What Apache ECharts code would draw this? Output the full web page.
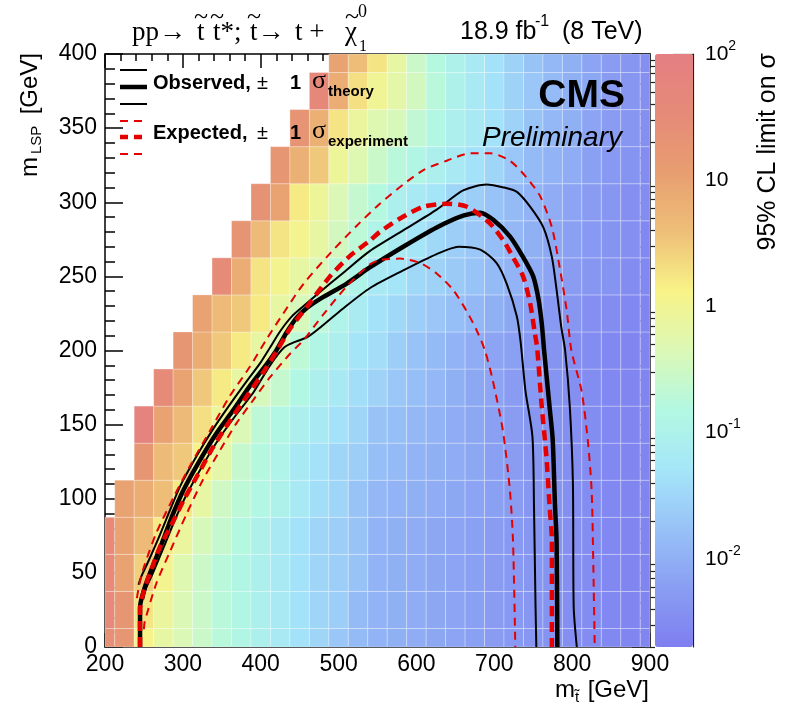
<!DOCTYPE html>
<html>
<head>
<meta charset="utf-8">
<script src="https://cdn.jsdelivr.net/npm/echarts@6/dist/echarts.min.js"></script>
<style>
  html, body { margin: 0; background: #fff; }
  #chart { width: 790px; height: 706px; }
</style>
</head>
<body>
<div id="chart"></div>
<script>
const _ = null

// grid of the scan: stop mass (x) and LSP mass (y), GeV
const mStop = [200, 225, 250, 275, 300, 325, 350, 375, 400, 425, 450, 475, 500, 525, 550, 575, 600, 625, 650, 675, 700, 725, 750, 775, 800, 825, 850, 875, 900]
const mLSP = [0, 25, 50, 75, 100, 125, 150, 175, 200, 225, 250, 275, 300, 325, 350, 375, 400]

// 95% CL upper limit on the cross section, one row per mLSP value
const lim0 = [25, 18, 1.3, 0.71, 0.45, 0.28, 0.18, 0.13, 0.089, 0.063, 0.045, 0.032, 0.02, 0.014, 0.011, 0.01, 0.0089, 0.0079, 0.0071, 0.0063, 0.0056, 0.005, 0.0045, 0.004, 0.0035, 0.0032, 0.0028, 0.0025, 0.0025]
const lim25 = [35, 18, 1.8, 0.79, 0.45, 0.28, 0.18, 0.13, 0.089, 0.063, 0.045, 0.032, 0.025, 0.014, 0.011, 0.01, 0.0089, 0.0079, 0.0071, 0.0063, 0.0056, 0.005, 0.0045, 0.004, 0.0035, 0.0032, 0.0028, 0.0025, 0.0025]
const lim50 = [32, 10, 2.8, 1.1, 0.5, 0.28, 0.18, 0.13, 0.089, 0.063, 0.045, 0.032, 0.025, 0.018, 0.011, 0.01, 0.0089, 0.0079, 0.0071, 0.0063, 0.0056, 0.005, 0.0045, 0.004, 0.0035, 0.0032, 0.0028, 0.0025, 0.0025]
const lim75 = [32, 10, 4.5, 1.6, 0.79, 0.4, 0.25, 0.16, 0.1, 0.063, 0.045, 0.032, 0.025, 0.018, 0.011, 0.01, 0.0089, 0.0079, 0.0071, 0.0063, 0.0056, 0.005, 0.0045, 0.004, 0.0035, 0.0032, 0.0028, 0.0025, 0.0025]
const lim100 = [_, 10, 7.1, 4.0, 1.6, 0.71, 0.32, 0.2, 0.14, 0.1, 0.063, 0.04, 0.032, 0.018, 0.013, 0.011, 0.01, 0.0089, 0.0079, 0.0071, 0.0063, 0.0056, 0.0045, 0.004, 0.0035, 0.0032, 0.0028, 0.0025, 0.0025]
const lim125 = [_, _, 18, 4.5, 3.2, 1.3, 0.63, 0.25, 0.16, 0.11, 0.063, 0.045, 0.032, 0.025, 0.016, 0.014, 0.011, 0.01, 0.0089, 0.0079, 0.0063, 0.0056, 0.0045, 0.004, 0.0035, 0.0032, 0.0028, 0.0025, 0.0025]
const lim150 = [_, _, 63, 10, 4.5, 2.0, 0.89, 0.45, 0.2, 0.14, 0.089, 0.063, 0.045, 0.032, 0.018, 0.016, 0.013, 0.011, 0.0089, 0.0079, 0.0063, 0.0056, 0.0045, 0.004, 0.0035, 0.0032, 0.0028, 0.0025, 0.0025]
const lim175 = [_, _, _, 32, 10, 3.2, 1.6, 0.71, 0.4, 0.25, 0.14, 0.089, 0.063, 0.04, 0.028, 0.02, 0.016, 0.013, 0.01, 0.0079, 0.0071, 0.0056, 0.005, 0.004, 0.0035, 0.0032, 0.0028, 0.0025, 0.0025]
const lim200 = [_, _, _, _, 18, 7.1, 3.2, 1.6, 0.71, 0.45, 0.2, 0.13, 0.089, 0.05, 0.04, 0.025, 0.018, 0.014, 0.011, 0.0089, 0.0071, 0.0063, 0.005, 0.004, 0.0035, 0.0032, 0.0028, 0.0025, 0.0025]
const lim225 = [_, _, _, _, _, 10, 4.5, 3.2, 1.6, 0.71, 0.4, 0.2, 0.11, 0.071, 0.045, 0.035, 0.025, 0.02, 0.016, 0.013, 0.01, 0.0079, 0.0063, 0.005, 0.0045, 0.0035, 0.0032, 0.0028, 0.0025]
const lim250 = [_, _, _, _, _, _, 32, 7.1, 1.8, 1.1, 0.71, 0.45, 0.2, 0.11, 0.063, 0.05, 0.035, 0.028, 0.022, 0.018, 0.014, 0.011, 0.0089, 0.0071, 0.0056, 0.0045, 0.004, 0.0032, 0.0028]
const lim275 = [_, _, _, _, _, _, _, 20, 4.5, 1.8, 1.1, 0.71, 0.35, 0.2, 0.11, 0.071, 0.05, 0.035, 0.025, 0.02, 0.016, 0.013, 0.01, 0.0079, 0.0063, 0.005, 0.004, 0.0035, 0.0028]
const lim300 = [_, _, _, _, _, _, _, _, 22, 10, 1.6, 0.89, 0.45, 0.25, 0.16, 0.089, 0.063, 0.05, 0.032, 0.025, 0.018, 0.014, 0.011, 0.0089, 0.0071, 0.0056, 0.0045, 0.0035, 0.0032]
const lim325 = [_, _, _, _, _, _, _, _, _, 18, 6.3, 3.2, 0.89, 0.5, 0.28, 0.18, 0.13, 0.089, 0.063, 0.045, 0.032, 0.02, 0.014, 0.011, 0.0089, 0.0063, 0.005, 0.004, 0.0032]
const lim350 = [_, _, _, _, _, _, _, _, _, _, 20, 6.3, 1.8, 0.79, 0.5, 0.4, 0.22, 0.14, 0.089, 0.063, 0.045, 0.028, 0.018, 0.013, 0.01, 0.0071, 0.0056, 0.0045, 0.0035]
const lim375 = [_, _, _, _, _, _, _, _, _, _, _, 40, 7.1, 2.0, 1.0, 0.63, 0.35, 0.18, 0.1, 0.063, 0.045, 0.028, 0.02, 0.014, 0.01, 0.0079, 0.0056, 0.0045, 0.0035]
const lim400 = [_, _, _, _, _, _, _, _, _, _, _, _, 10, 4.0, 1.8, 0.71, 0.28, 0.16, 0.1, 0.063, 0.045, 0.028, 0.018, 0.013, 0.01, 0.0071, 0.0056, 0.0045, 0.0035]
const limitRows = [lim0, lim25, lim50, lim75, lim100, lim125, lim150, lim175, lim200, lim225, lim250, lim275, lim300, lim325, lim350, lim375, lim400]

// exclusion contours [mStop, mLSP]
const obsCentral = [[245, 0], [245, 27], [251, 40], [258, 50], [273, 70], [286, 88], [301, 106], [322, 126], [343, 144], [365, 160], [386, 176], [408, 191], [420, 200], [433, 212], [446, 222], [460, 229], [480, 236], [510, 245], [540, 256], [583, 270], [626, 283], [660, 291], [682, 293], [699, 288], [720, 277], [737, 263], [750, 250], [757, 234], [761, 218], [764, 200], [771, 162], [775, 140], [778, 95], [780, 72], [781, 0]]
const obsUp = [[243, 42], [247, 48], [255, 57], [270, 75], [284, 93], [298, 110], [319, 130], [340, 148], [361, 164], [383, 180], [400, 192], [412, 202], [425, 213], [440, 223], [455, 230], [475, 239], [505, 252], [540, 267], [583, 281], [626, 295], [660, 308], [690, 312], [712, 310], [729, 307], [746, 297], [763, 283], [774, 263], [780, 241], [786, 216], [791, 200], [797, 162], [801, 110], [802, 27], [806, 0]]
const obsDown = [[249, 32], [253, 40], [260, 48], [276, 68], [290, 86], [305, 103], [326, 123], [347, 141], [369, 157], [391, 172], [412, 190], [430, 202], [445, 206], [460, 209], [480, 217], [505, 228], [540, 242], [583, 254], [626, 265], [654, 270], [682, 268], [703, 259], [716, 245], [729, 223], [734, 205], [740, 173], [749, 142], [751, 95], [753, 27], [754, 0]]
const expCentral = [[245, 0], [245, 25], [250, 38], [258, 50], [271, 68], [284, 81], [301, 99], [318, 115], [339, 135], [361, 153], [382, 169], [403, 185], [421, 200], [438, 215], [463, 232], [489, 250], [515, 264], [540, 274], [553, 280], [579, 289], [609, 297], [639, 299], [665, 297], [694, 286], [712, 274], [724, 263], [737, 250], [746, 232], [752, 212], [755, 202], [761, 162], [767, 128], [771, 95], [774, 72], [774, 0]]
const expUp = [[241, 33], [244, 42], [250, 54], [266, 77], [288, 101], [309, 122], [335, 146], [360, 169], [386, 189], [408, 208], [429, 225], [455, 245], [490, 266], [523, 284], [553, 299], [583, 312], [610, 322], [639, 328], [669, 333], [695, 333], [720, 328], [741, 317], [759, 304], [774, 283], [784, 256], [793, 227], [799, 200], [812, 173], [820, 140], [825, 106], [827, 61], [829, 0]]
const expDown = [[250, 12], [251, 17], [266, 43], [284, 65], [305, 90], [326, 113], [348, 133], [369, 151], [391, 167], [412, 182], [438, 198], [455, 207], [480, 224], [510, 243], [540, 258], [553, 261], [579, 262], [605, 259], [626, 252], [647, 241], [664, 227], [677, 214], [688, 200], [698, 180], [711, 146], [720, 106], [724, 72], [727, 0]]

// colour bar ticks
const cbMajor = [0.01, 0.1, 1, 10, 100]
const cbMinor = [0.002, 0.003, 0.004, 0.005, 0.006, 0.007, 0.008, 0.009, 0.02, 0.03, 0.04, 0.05, 0.06, 0.07, 0.08, 0.09, 0.2, 0.3, 0.4, 0.5, 0.6, 0.7, 0.8, 0.9, 2, 3, 4, 5, 6, 7, 8, 9, 20, 30, 40, 50, 60, 70, 80, 90]
const cbMin = 0.002
const cbMax = 100

const BIN = 25
const SANS = '"Liberation Sans", Arial, sans-serif'
const SERIF = '"Liberation Serif", "Times New Roman", serif'

const cells = []
limitRows.forEach((row, j) => {
  row.forEach((v, i) => {
    if (v !== null) cells.push([mStop[i], mLSP[j], Math.log10(v)])
  })
})

const black = { color: '#000', width: 1.5 }

function frameAxis(extra) {
  return Object.assign({
    type: 'value',
    gridIndex: 0,
    axisLine: { show: true, onZero: false, lineStyle: black },
    splitLine: { show: false },
  }, extra)
}

function contour(data, color, width, dash) {
  return {
    type: 'line',
    xAxisIndex: 0,
    yAxisIndex: 0,
    data: data,
    symbol: 'none',
    showSymbol: false,
    smooth: 0.25,
    silent: true,
    z: 3,
    lineStyle: { color: color, width: width, type: dash || 'solid' }
  }
}

function txt(x, y, text, font, align, rot) {
  return {
    type: 'text',
    x: x,
    y: y,
    z: 100,
    rotation: rot || 0,
    silent: true,
    style: {
      text: text,
      font: font,
      fill: '#000',
      textAlign: align || 'left',
      align: align || 'left',
      textVerticalAlign: 'middle',
      verticalAlign: 'middle'
    }
  }
}

function legLine(y, color, width, dash) {
  return {
    type: 'line',
    z: 100,
    silent: true,
    shape: { x1: 120, y1: y, x2: 147, y2: y },
    style: { stroke: color, lineWidth: width, lineDash: dash || null }
  }
}

const RED = '#e50000'
const TITLE = '27px ' + SERIF
const TILDE = '26px ' + SERIF

const chart = echarts.init(document.getElementById('chart'))
chart.setOption({
  animation: false,
  backgroundColor: '#fff',
  grid: [
    { left: 105, top: 54, width: 545, height: 593, containLabel: false, outerBoundsMode: 'none' },
    { left: 655, top: 54, width: 38, height: 593, containLabel: false, outerBoundsMode: 'none' }
  ],
  xAxis: [
    frameAxis({
      position: 'bottom', min: 200, max: 900, interval: 100,
      axisTick: { inside: true, length: 14, lineStyle: black },
      minorTick: { show: true, splitNumber: 5, length: 7, lineStyle: black },
      axisLabel: { fontSize: 23, fontFamily: SANS, color: '#000', margin: 6 }
    }),
    frameAxis({
      position: 'top', min: 200, max: 900, interval: 100,
      axisTick: { inside: true, length: 14, lineStyle: black },
      minorTick: { show: true, splitNumber: 5, length: 7, lineStyle: black },
      axisLabel: { show: false }
    }),
    { type: 'value', gridIndex: 1, show: false, min: 0, max: 1 }
  ],
  yAxis: [
    frameAxis({
      position: 'left', min: 0, max: 400, interval: 50,
      axisTick: { inside: true, length: 18, lineStyle: black },
      minorTick: { show: true, splitNumber: 5, length: 10, lineStyle: black },
      axisLabel: { fontSize: 23, fontFamily: SANS, color: '#000', margin: 8 }
    }),
    frameAxis({
      position: 'right', min: 0, max: 400, interval: 50,
      axisTick: { inside: true, length: 18, lineStyle: black },
      minorTick: { show: true, splitNumber: 5, length: 10, lineStyle: black },
      axisLabel: { show: false }
    }),
    {
      type: 'log', logBase: 10, gridIndex: 1, position: 'right', min: cbMin, max: cbMax,
      axisLine: { show: true, onZero: false, lineStyle: { color: '#222', width: 1.2 } },
      axisTick: { inside: true, length: 20, customValues: cbMajor, lineStyle: { color: '#222', width: 1.2 } },
      splitLine: { show: false },
      axisLabel: {
        customValues: cbMajor,
        margin: 12,
        color: '#000',
        formatter: function (v) {
          const e = Math.round(Math.log10(v))
          if (e === 0) return '{m|1}'
          if (e === 1) return '{m|10}'
          return '{m|10}{s|' + e + '}'
        },
        rich: {
          m: { fontSize: 21, fontFamily: SANS, color: '#000', lineHeight: 30 },
          s: { fontSize: 14, fontFamily: SANS, color: '#000', verticalAlign: 'top', lineHeight: 16 }
        }
      }
    },
    {
      type: 'log', logBase: 10, gridIndex: 1, position: 'right', min: cbMin, max: cbMax,
      axisLine: { show: false },
      axisTick: { inside: true, length: 10, customValues: cbMinor, lineStyle: { color: '#222', width: 1.2 } },
      axisLabel: { show: false },
      splitLine: { show: false }
    }
  ],
  visualMap: {
    type: 'continuous',
    seriesIndex: 0,
    dimension: 2,
    min: Math.log10(cbMin),
    max: Math.log10(cbMax),
    calculable: false,
    hoverLink: false,
    orient: 'vertical',
    left: 655,
    top: 54,
    padding: 0,
    itemWidth: 38,
    itemHeight: 593,
    text: null,
    inRange: {
      color: ['#7f7ef0', '#899ef2', '#98c2f7', '#a5e6f8', '#b3f8e2', '#dbf8b6', '#f8f388', '#eebf78', '#e89e70', '#e58a78', '#e57f82']
    }
  },
  series: [
    {
      type: 'custom',
      xAxisIndex: 0,
      yAxisIndex: 0,
      data: cells,
      encode: { x: 0, y: 1 },
      silent: true,
      z: 1,
      renderItem: function (params, api) {
        const x = api.value(0)
        const y = api.value(1)
        const a = api.coord([x - BIN / 2, y + BIN / 2])
        const b = api.coord([x + BIN / 2, y - BIN / 2])
        const cs = params.coordSys
        const r = echarts.graphic.clipRectByRect(
          { x: a[0], y: a[1], width: b[0] - a[0], height: b[1] - a[1] },
          { x: cs.x, y: cs.y, width: cs.width, height: cs.height }
        )
        if (!r) return
        return {
          type: 'rect',
          shape: r,
          style: { fill: api.visual('color'), stroke: 'rgba(255,255,255,0.28)', lineWidth: 1 }
        }
      }
    },
    contour(obsUp, '#000', 2),
    contour(obsDown, '#000', 2),
    contour(obsCentral, '#000', 4.5),
    contour(expUp, RED, 2, [8, 6]),
    contour(expDown, RED, 2, [8, 6]),
    contour(expCentral, RED, 4.5, [10, 6])
  ],
  graphic: [
    // header: pp -> stop stop*; stop -> t + neutralino
    txt(132, 33, 'pp\u2192', TITLE),
    txt(197, 33, 't', TITLE),
    txt(213, 33, 't*;', TITLE),
    txt(250, 33, 't\u2192', TITLE),
    txt(295, 33, 't +', TITLE),
    txt(345, 33, '\u03c7', TITLE),
    txt(201, 17, '~', TILDE, 'center'),
    txt(217, 17, '~', TILDE, 'center'),
    txt(254, 17, '~', TILDE, 'center'),
    txt(352, 17, '~', TILDE, 'center'),
    txt(358, 12, '0', '18px ' + SERIF),
    txt(359, 47, '1', '16px ' + SERIF),
    txt(460, 32, '18.9 fb', '25px ' + SANS),
    txt(535, 22, '-1', '16px ' + SANS),
    txt(562, 32, '(8 TeV)', '25px ' + SANS),
    // CMS label
    txt(625, 96, 'CMS', 'bold 39px ' + SANS, 'right'),
    txt(622, 138, 'Preliminary', 'italic 28px ' + SANS, 'right'),
    // legend
    legLine(70, '#000', 2),
    legLine(87, '#000', 4.5),
    legLine(104, '#000', 2),
    legLine(121, RED, 2, [8, 6]),
    legLine(137, RED, 4.5, [8, 6]),
    legLine(154, RED, 2, [8, 6]),
    txt(153, 83, 'Observed,', 'bold 20px ' + SANS),
    txt(257, 83, '\u00b1', '20px ' + SANS),
    txt(290, 83, '1', 'bold 20px ' + SANS),
    txt(312, 81, '\u03c3', '26px ' + SERIF),
    txt(328, 92, 'theory', 'bold 15px ' + SANS),
    txt(153, 133, 'Expected,', 'bold 20px ' + SANS),
    txt(257, 133, '\u00b1', '20px ' + SANS),
    txt(290, 133, '1', 'bold 20px ' + SANS),
    txt(312, 131, '\u03c3', '26px ' + SERIF),
    txt(328, 142, 'experiment', 'bold 15px ' + SANS),
    // x axis title
    txt(555, 690, 'm', '24px ' + SANS),
    txt(575, 698, 't\u0303', '15px ' + SANS),
    txt(649, 690, '[GeV]', '24px ' + SANS, 'right'),
    // y axis title (reads upwards)
    txt(30, 177, 'm', '24px ' + SANS, 'left', Math.PI / 2),
    txt(37, 154, 'LSP', '15px ' + SANS, 'left', Math.PI / 2),
    txt(30, 53, '[GeV]', '24px ' + SANS, 'right', Math.PI / 2),
    // colour bar title
    txt(768, 53, '95% CL limit on \u03c3', '25px ' + SANS, 'right', Math.PI / 2)
  ]
})
</script>
</body>
</html>
